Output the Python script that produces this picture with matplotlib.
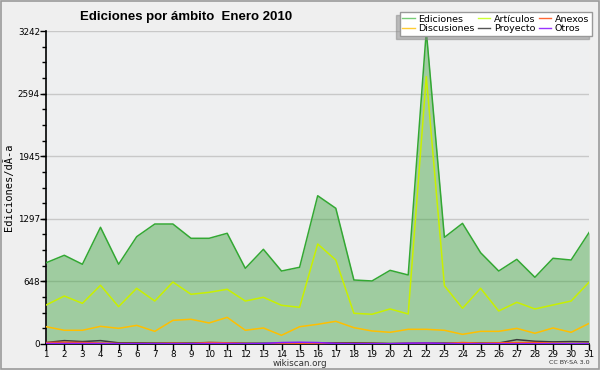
import numpy as np
import matplotlib
matplotlib.use("Agg")
import matplotlib.pyplot as plt

days = list(range(1, 32))

ediciones = [842, 919, 826, 1209, 826, 1112, 1243, 1243, 1095, 1095, 1147, 784, 981, 756, 795,
             1536, 1406, 663, 653, 763, 715, 3242, 1105, 1250, 946, 756, 877, 691, 888, 870, 1157]
articulos = [404, 497, 421, 608, 387, 577, 445, 642, 515, 535, 567, 445, 484, 401, 380,
             1036, 870, 318, 308, 363, 311, 2770, 604, 370, 577, 342, 432, 363, 404, 445, 642]
discusiones = [179, 142, 142, 183, 162, 193, 131, 245, 256, 218, 276, 142, 166, 90, 179,
               204, 235, 169, 135, 121, 152, 152, 142, 100, 131, 131, 162, 111, 166, 121, 214]
proyecto = [15, 35, 25, 35, 12, 12, 10, 10, 10, 15, 12, 8, 8, 8, 8,
            10, 12, 12, 10, 5, 8, 10, 10, 10, 10, 10, 45, 28, 22, 25, 22]
anexos = [15, 18, 15, 10, 5, 5, 5, 8, 5, 15, 12, 5, 3, 3, 3,
          3, 5, 5, 5, 3, 5, 5, 5, 15, 8, 12, 15, 15, 8, 5, 5]
otros = [5, 5, 5, 5, 3, 3, 3, 3, 3, 5, 5, 3, 5, 15, 18,
         15, 5, 3, 3, 3, 8, 10, 5, 3, 3, 3, 3, 3, 3, 3, 3]

yticks = [0, 648, 1297, 1945, 2594, 3242]
ymax = 3242

bg = "#eeeff0"
fig = plt.figure(figsize=(6, 3.7), dpi=100, facecolor="#efefef")
ax = fig.add_axes([0.077, 0.0703, 0.905, 0.8457])
ax.set_facecolor(bg)

# frame round the whole picture
fig.patches.append(plt.Rectangle((0.001, 0.002), 0.997, 0.995, transform=fig.transFigure,
                                 fill=False, edgecolor="#9a9a9a", lw=1.2))

ax.set_xlim(1, 31)
ax.set_ylim(0, ymax)
ax.set_yticks(yticks)
ax.set_yticks(np.arange(0, ymax, ymax / 20), minor=True)
ax.set_xticks(days)
ax.grid(axis="y", color="#c8c8c8", lw=1, zorder=0)
ax.set_axisbelow(True)

for s in ["top", "right"]:
    ax.spines[s].set_visible(False)
ax.spines["left"].set_linewidth(1.2)
ax.spines["bottom"].set_linewidth(1.2)
ax.tick_params(axis="both", labelsize=6.3, length=4, width=1, pad=0.5, colors="black")
ax.tick_params(axis="y", which="minor", length=3, width=1)

ax.fill_between(days, ediciones, 0, color="#3fa33f", alpha=0.45, lw=0, zorder=1)
ax.plot(days, ediciones, color="#33a833", lw=1.1, zorder=3)
ax.plot(days, articulos, color="#c8f000", lw=1.1, zorder=3)
ax.plot(days, discusiones, color="#ffbf00", lw=1.1, zorder=3)
ax.plot(days, proyecto, color="#3a3a3a", lw=1.1, zorder=3)
ax.plot(days, anexos, color="#ff5a1a", lw=1.1, zorder=3)
ax.plot(days, otros, color="#8a1aff", lw=1.1, zorder=3)

# legend handles only (lighter colours as in the original key)
leg_items = [("Ediciones", "#77cc77"), ("Discusiones", "#ffcc33"),
             ("Artículos", "#ccff33"), ("Proyecto", "#555555"),
             ("Anexos", "#ff6633"), ("Otros", "#9933ff")]
handles = [plt.Line2D([], [], color=c, lw=1) for _, c in leg_items]
leg = ax.legend(handles, [t for t, _ in leg_items], ncol=3, loc="upper right",
                bbox_to_anchor=(0.987, 0.968), bbox_transform=fig.transFigure,
                fontsize=6.8, frameon=True, fancybox=False, framealpha=1,
                edgecolor="#999999", handlelength=1.3, handletextpad=0.4,
                columnspacing=0.35, labelspacing=0.05, borderpad=0.3,
                borderaxespad=0, shadow={"ox": -2.2, "oy": -2.2, "shade": 0.47})
leg.get_frame().set_linewidth(1)
leg.set_zorder(10)

fig.text(0.31, 0.955, "Ediciones por ámbito  Enero 2010", ha="center", va="center",
         fontsize=9.5, fontweight="bold", family="Liberation Sans")
ax.set_ylabel("Ediciones/dÃ-a", fontsize=7.5, family="DejaVu Sans Mono", labelpad=3)
fig.text(0.5, 0.017, "wikiscan.org", ha="center", va="center", fontsize=6.3, color="#333333")
fig.text(0.982, 0.019, "CC BY-SA 3.0", ha="right", va="center", fontsize=4.6, color="#333333")

fig.savefig("out.png", dpi=100, facecolor=fig.get_facecolor())
